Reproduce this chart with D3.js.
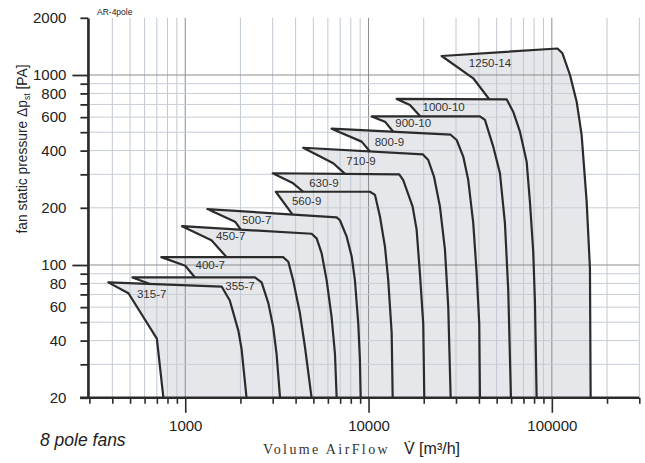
<!DOCTYPE html>
<html><head><meta charset="utf-8">
<script src="https://cdn.jsdelivr.net/npm/d3@7"></script>
<style>
body{margin:0;background:#fff}
svg{display:block;font-family:"Liberation Sans",Arial,sans-serif}
</style>
</head><body>
<svg id="chart" width="645" height="463"></svg>
<script>
// Fan sizes (impeller diameter - blade count)
const fanNames = ["315-7","355-7","400-7","450-7","500-7","560-9","630-9","710-9","800-9","900-10","1000-10","1250-14"];

// Operating envelope per fan: stall corner, top edge, then the right-hand curve down to 20 Pa
// [flow m³/h, pressure Pa]
const fanTops = [
  [[380,81],[1580,77],[1750,65],[1950,45],[2030,36],[2160,20]],
  [[515,86],[2400,86],[2610,81],[2840,63],[3020,47],[3150,34],[3290,20]],
  [[740,110],[3420,110],[3650,104],[3880,83],[4220,56],[4500,37],[4890,20]],
  [[960,160],[4890,146],[5210,138],[5550,115],[5910,83],[6290,53],[6560,34],[6700,20]],
  [[1320,197],[6700,178],[6980,172],[7600,141],[8090,111],[8430,83],[8790,49],[8970,32],[9060,20]],
  [[3120,243],[10180,243],[10840,234],[11540,180],[12290,125],[12810,83],[13370,44],[13540,20]],
  [[3000,304],[14700,300],[15460,280],[17400,203],[18300,153],[19070,90],[19880,49],[20140,20]],
  [[4400,414],[19810,382],[21170,357],[22750,292],[24520,203],[26120,120],[27220,60],[28050,20]],
  [[6290,522],[28050,485],[30250,455],[32860,372],[34990,280],[37260,166],[38900,90],[40180,49],[40530,20]],
  [[10400,605],[40530,605],[43150,580],[47890,420],[52110,304],[55470,166],[57820,74],[59820,20]],
  [[14230,748],[56660,745],[61530,641],[66990,503],[72870,350],[75940,215],[79160,117],[80870,64],[82610,20]],
  [[25050,1259],[107300,1379],[114260,1301],[125600,1000],[136600,724],[145400,483],[154900,215],[161400,96],[162800,20]]
];

// Stall line bends below each stall corner
const fanLefts = [
  [[490,71],[700,41],[760,20]],
  [],
  [[1000,99]],
  [[1390,135]],
  [[1870,169]],
  [],
  [[3880,269]],
  [[6420,343]],
  [[9170,446]],
  [[12290,568]],
  [[16820,695]],
  [[37260,961]]
];

// Flow where each stall line runs into the top edge of the next smaller fan
const junctionFlows = [null,642,1130,1680,2010,3850,4400,7440,10180,13640,19190,45540];

// Label anchors
const labelFlows = [656,1989,1369,1769,2452,4596,5710,9090,13000,17530,25690,45960];
const labelPressures = [70,77.5,100,142,172.5,218,268.5,352,446,559,681,1152];

// Axes
const xGridValues = [300,400,500,600,700,800,900,1000,2000,3000,4000,5000,6000,7000,8000,9000,
  10000,20000,30000,40000,50000,60000,70000,80000,90000,100000,200000,300000];
const xLabelValues = [1000,10000,100000];
const yGridValues = [20,30,40,50,60,70,80,90,100,200,300,400,500,600,700,800,900,1000,2000];
const yLabelValues = [20,40,60,80,100,200,400,600,800,1000,2000];
const decades = [100,1000,10000,100000];

const x = d3.scaleLog().domain([300, 300000]).range([89.4, 639.3]);
const y = d3.scaleLog().domain([20, 2000]).range([397.8, 17.8]);
const svg = d3.select("#chart");
const line = d3.line().x(d => x(d[0])).y(d => y(d[1]));

function pressureOnTopEdge(top, flow) {
  const a = top[0], b = top[1];
  const t = Math.log(flow / a[0]) / Math.log(b[0] / a[0]);
  return Math.exp(Math.log(a[1]) + t * (Math.log(b[1]) - Math.log(a[1])));
}

const fans = fanNames.map((name, i) => {
  const top = fanTops[i];
  const left = fanLefts[i].slice();
  if (i > 0) left.push([junctionFlows[i], pressureOnTopEdge(fanTops[i - 1], junctionFlows[i])]);
  const outline = left.slice().reverse().concat(top);
  const area = i === 0 ? outline : outline.concat(fanTops[i - 1].slice(1).reverse());
  return { name, outline, area, label: [labelFlows[i], labelPressures[i]] };
});

// filled envelopes
svg.append("g").selectAll("path").data(fans).join("path")
  .attr("d", d => line(d.area) + "Z")
  .attr("fill", "#e6e7ea").attr("stroke", "#e6e7ea").attr("stroke-width", 0.6);

// grid
const [x0, x1] = x.range(), [yb, yt] = y.range();
const grid = svg.append("g");
grid.selectAll("line.v").data(xGridValues).join("line").attr("class", "v")
  .attr("x1", d => x(d)).attr("x2", d => x(d)).attr("y1", yt).attr("y2", yb)
  .attr("stroke", d => decades.includes(d) ? "#8c8c8c" : "#c0c8d1").attr("stroke-width", 1);
grid.selectAll("line.h").data(yGridValues.filter(v => v > 20 && v < 2000)).join("line").attr("class", "h")
  .attr("x1", x0).attr("x2", x1).attr("y1", d => y(d)).attr("y2", d => y(d))
  .attr("stroke", d => decades.includes(d) ? "#8c8c8c" : "#c6cdd5").attr("stroke-width", 1);

// envelope outlines
svg.append("g").selectAll("path").data(fans).join("path")
  .attr("d", d => line(d.outline))
  .attr("fill", "none").attr("stroke", "#2b2b2b").attr("stroke-width", 2.2)
  .attr("stroke-linejoin", "round");

// fan labels
svg.append("g").selectAll("text").data(fans).join("text")
  .attr("x", d => x(d.label[0])).attr("y", d => y(d.label[1]))
  .attr("text-anchor", "middle").attr("dominant-baseline", "central")
  .attr("font-size", 11.5).attr("fill", "#333").text(d => d.name);

// x axis
const xAxis = d3.axisBottom(x).tickValues(xGridValues)
  .tickFormat(d => xLabelValues.includes(d) ? String(d) : "").tickSizeOuter(0);
const gx = svg.append("g").attr("transform", `translate(0,${yb})`).call(xAxis);
gx.select(".domain").remove();
gx.selectAll(".tick line").attr("y2", d => decades.includes(d) ? 15 : 6)
  .attr("stroke", "#2b2b2b").attr("stroke-width", 1.6);
gx.selectAll(".tick text").attr("y", 23).attr("dy", "0.71em")
  .attr("font-size", 15).attr("font-family", "Liberation Sans").attr("fill", "#222");
svg.append("line").attr("x1", 80).attr("x2", x1).attr("y1", yb).attr("y2", yb)
  .attr("stroke", "#2b2b2b").attr("stroke-width", 2.4);

// y axis
const yAxis = d3.axisLeft(y).tickValues(yGridValues)
  .tickFormat(d => yLabelValues.includes(d) ? String(d) : "").tickSizeOuter(0);
const gy = svg.append("g").attr("transform", `translate(${x0 - 1},0)`).call(yAxis);
gy.select(".domain").remove();
gy.selectAll(".tick line").attr("x2", d => (d === 100 || d === 1000) ? -16 : -8)
  .attr("stroke", "#2b2b2b").attr("stroke-width", 1.8);
gy.selectAll(".tick text").attr("x", -22)
  .attr("font-size", 15).attr("font-family", "Liberation Sans").attr("fill", "#222");
svg.append("line").attr("x1", x0 - 1).attr("x2", x0 - 1).attr("y1", yt + 1).attr("y2", yb + 1)
  .attr("stroke", "#2b2b2b").attr("stroke-width", 2.6);

// titles
const yTitle = svg.append("text").attr("transform", "translate(27,149) rotate(-90)")
  .attr("text-anchor", "middle").attr("font-size", 13.8).attr("fill", "#222");
yTitle.append("tspan").text("fan static pressure Δp");
yTitle.append("tspan").attr("font-size", 8.5).attr("dy", 3).text("st");
yTitle.append("tspan").attr("dy", -3).text(" [PA]");

svg.append("text").attr("x", 97).attr("y", 15).attr("font-size", 8.5).attr("fill", "#222").text("AR-4pole");

svg.append("text").attr("x", 40).attr("y", 446).attr("font-size", 17.5).attr("font-style", "italic")
  .attr("fill", "#222").text("8 pole fans");

svg.append("text").attr("x", 263).attr("y", 454).attr("font-family", "Liberation Serif")
  .attr("font-size", 14).attr("letter-spacing", 2.4).attr("fill", "#333").text("Volume AirFlow");
svg.append("text").attr("x", 404).attr("y", 454).attr("font-size", 16).attr("fill", "#222")
  .text("V\u0307 [m³/h]");
</script>
</body></html>
